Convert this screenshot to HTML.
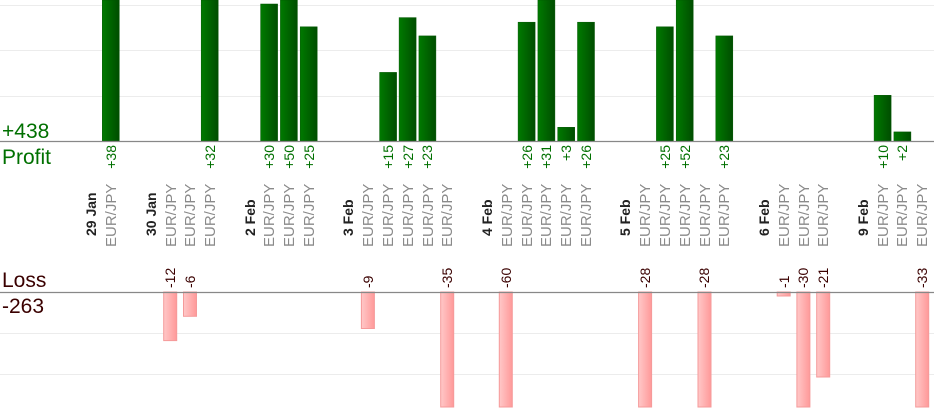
<!DOCTYPE html>
<html><head><meta charset="utf-8"><style>
html,body{margin:0;padding:0;background:#fff;width:934px;height:420px;overflow:hidden}
svg{display:block;font-family:"Liberation Sans",sans-serif}
</style></head><body>
<svg width="934" height="420" viewBox="0 0 934 420">
<defs>
<linearGradient id="g" x1="0" x2="1" y1="0" y2="0"><stop offset="0" stop-color="#007a00"/><stop offset="1" stop-color="#004d00"/></linearGradient>
<linearGradient id="r" x1="0" x2="1" y1="0" y2="0"><stop offset="0" stop-color="#ffc8c8"/><stop offset="1" stop-color="#ff9999"/></linearGradient>
</defs>
<g stroke="#ececec" stroke-width="1">
<line x1="0" x2="934" y1="5.5" y2="5.5"/><line x1="0" x2="934" y1="50.5" y2="50.5"/><line x1="0" x2="934" y1="96.5" y2="96.5"/>
<line x1="0" x2="934" y1="333.5" y2="333.5"/><line x1="0" x2="934" y1="374.5" y2="374.5"/>
</g>
<g fill="url(#g)" stroke="#005500" stroke-width="0.5">
<rect x="102.3" y="0" width="17" height="141"/>
<rect x="201.2" y="0" width="17" height="141"/>
<rect x="260.6" y="4" width="17" height="137"/>
<rect x="280.4" y="0" width="17" height="141"/>
<rect x="300.2" y="26.8" width="17" height="114.2"/>
<rect x="379.6" y="72.4" width="17" height="68.6"/>
<rect x="399.1" y="17.6" width="17" height="123.4"/>
<rect x="418.9" y="35.9" width="17" height="105.1"/>
<rect x="518.1" y="22.2" width="17" height="118.8"/>
<rect x="537.9" y="0" width="17" height="141"/>
<rect x="557.7" y="127.3" width="17" height="13.7"/>
<rect x="577.5" y="22.2" width="17" height="118.8"/>
<rect x="656.4" y="26.8" width="17" height="114.2"/>
<rect x="676.2" y="0" width="17" height="141"/>
<rect x="715.8" y="35.9" width="17" height="105.1"/>
<rect x="874.1" y="95.3" width="17" height="45.7"/>
<rect x="893.9" y="131.9" width="17" height="9.1"/>
</g>
<g fill="url(#r)" stroke="#f59a9a" stroke-width="1">
<rect x="163.7" y="292" width="13" height="48.6"/>
<rect x="183.5" y="292" width="13" height="24.3"/>
<rect x="361.4" y="292" width="13" height="36.5"/>
<rect x="440.7" y="292" width="13" height="115"/>
<rect x="499.3" y="292" width="13" height="115"/>
<rect x="638.6" y="292" width="13" height="115"/>
<rect x="698" y="292" width="13" height="115"/>
<rect x="777.2" y="292" width="13" height="4"/>
<rect x="796.9" y="292" width="13" height="115"/>
<rect x="816.7" y="292" width="13" height="85"/>
<rect x="915.7" y="292" width="13" height="115"/>
</g>
<line x1="0" x2="934" y1="141.5" y2="141.5" stroke="#888" stroke-width="1.2"/>
<line x1="0" x2="934" y1="292.5" y2="292.5" stroke="#888" stroke-width="1.2"/>
<text x="2" y="138" font-size="21" fill="#007000">+438</text>
<text x="2" y="164" font-size="21" fill="#007000">Profit</text>
<text x="2" y="287" font-size="21" fill="#3a0000">Loss</text>
<text x="2" y="313" font-size="21" fill="#3a0000">-263</text>
<g font-size="14" fill="#007000" text-anchor="end">
<text transform="translate(116,145) rotate(-90)">+38</text>
<text transform="translate(215,145) rotate(-90)">+32</text>
<text transform="translate(274,145) rotate(-90)">+30</text>
<text transform="translate(294,145) rotate(-90)">+50</text>
<text transform="translate(314,145) rotate(-90)">+25</text>
<text transform="translate(393,145) rotate(-90)">+15</text>
<text transform="translate(413,145) rotate(-90)">+27</text>
<text transform="translate(432,145) rotate(-90)">+23</text>
<text transform="translate(532,145) rotate(-90)">+26</text>
<text transform="translate(551,145) rotate(-90)">+31</text>
<text transform="translate(571,145) rotate(-90)">+3</text>
<text transform="translate(591,145) rotate(-90)">+26</text>
<text transform="translate(670,145) rotate(-90)">+25</text>
<text transform="translate(690,145) rotate(-90)">+52</text>
<text transform="translate(729,145) rotate(-90)">+23</text>
<text transform="translate(888,145) rotate(-90)">+10</text>
<text transform="translate(907,145) rotate(-90)">+2</text>
</g>
<g font-size="14" fill="#3a0000">
<text transform="translate(175,288) rotate(-90)">-12</text>
<text transform="translate(195,288) rotate(-90)">-6</text>
<text transform="translate(373,288) rotate(-90)">-9</text>
<text transform="translate(452,288) rotate(-90)">-35</text>
<text transform="translate(511,288) rotate(-90)">-60</text>
<text transform="translate(650,288) rotate(-90)">-28</text>
<text transform="translate(709,288) rotate(-90)">-28</text>
<text transform="translate(789,288) rotate(-90)">-1</text>
<text transform="translate(808,288) rotate(-90)">-30</text>
<text transform="translate(828,288) rotate(-90)">-21</text>
<text transform="translate(927,288) rotate(-90)">-33</text>
</g>
<g font-size="15" fill="#8a8a8a">
<text transform="translate(116,247) rotate(-90)">EUR/JPY</text>
<text transform="translate(176,247) rotate(-90)">EUR/JPY</text>
<text transform="translate(195,247) rotate(-90)">EUR/JPY</text>
<text transform="translate(215,247) rotate(-90)">EUR/JPY</text>
<text transform="translate(274,247) rotate(-90)">EUR/JPY</text>
<text transform="translate(294,247) rotate(-90)">EUR/JPY</text>
<text transform="translate(314,247) rotate(-90)">EUR/JPY</text>
<text transform="translate(373,247) rotate(-90)">EUR/JPY</text>
<text transform="translate(393,247) rotate(-90)">EUR/JPY</text>
<text transform="translate(413,247) rotate(-90)">EUR/JPY</text>
<text transform="translate(433,247) rotate(-90)">EUR/JPY</text>
<text transform="translate(452,247) rotate(-90)">EUR/JPY</text>
<text transform="translate(512,247) rotate(-90)">EUR/JPY</text>
<text transform="translate(532,247) rotate(-90)">EUR/JPY</text>
<text transform="translate(551,247) rotate(-90)">EUR/JPY</text>
<text transform="translate(571,247) rotate(-90)">EUR/JPY</text>
<text transform="translate(591,247) rotate(-90)">EUR/JPY</text>
<text transform="translate(650,247) rotate(-90)">EUR/JPY</text>
<text transform="translate(670,247) rotate(-90)">EUR/JPY</text>
<text transform="translate(690,247) rotate(-90)">EUR/JPY</text>
<text transform="translate(710,247) rotate(-90)">EUR/JPY</text>
<text transform="translate(729,247) rotate(-90)">EUR/JPY</text>
<text transform="translate(789,247) rotate(-90)">EUR/JPY</text>
<text transform="translate(809,247) rotate(-90)">EUR/JPY</text>
<text transform="translate(828,247) rotate(-90)">EUR/JPY</text>
<text transform="translate(888,247) rotate(-90)">EUR/JPY</text>
<text transform="translate(907,247) rotate(-90)">EUR/JPY</text>
<text transform="translate(927,247) rotate(-90)">EUR/JPY</text>
</g>
<g font-size="14" font-weight="bold" fill="#222">
<text transform="translate(96,236) rotate(-90)">29 Jan</text>
<text transform="translate(156,236) rotate(-90)">30 Jan</text>
<text transform="translate(255,236) rotate(-90)">2 Feb</text>
<text transform="translate(353,236) rotate(-90)">3 Feb</text>
<text transform="translate(492,236) rotate(-90)">4 Feb</text>
<text transform="translate(630,236) rotate(-90)">5 Feb</text>
<text transform="translate(769,236) rotate(-90)">6 Feb</text>
<text transform="translate(868,236) rotate(-90)">9 Feb</text>
</g>
</svg>
</body></html>
